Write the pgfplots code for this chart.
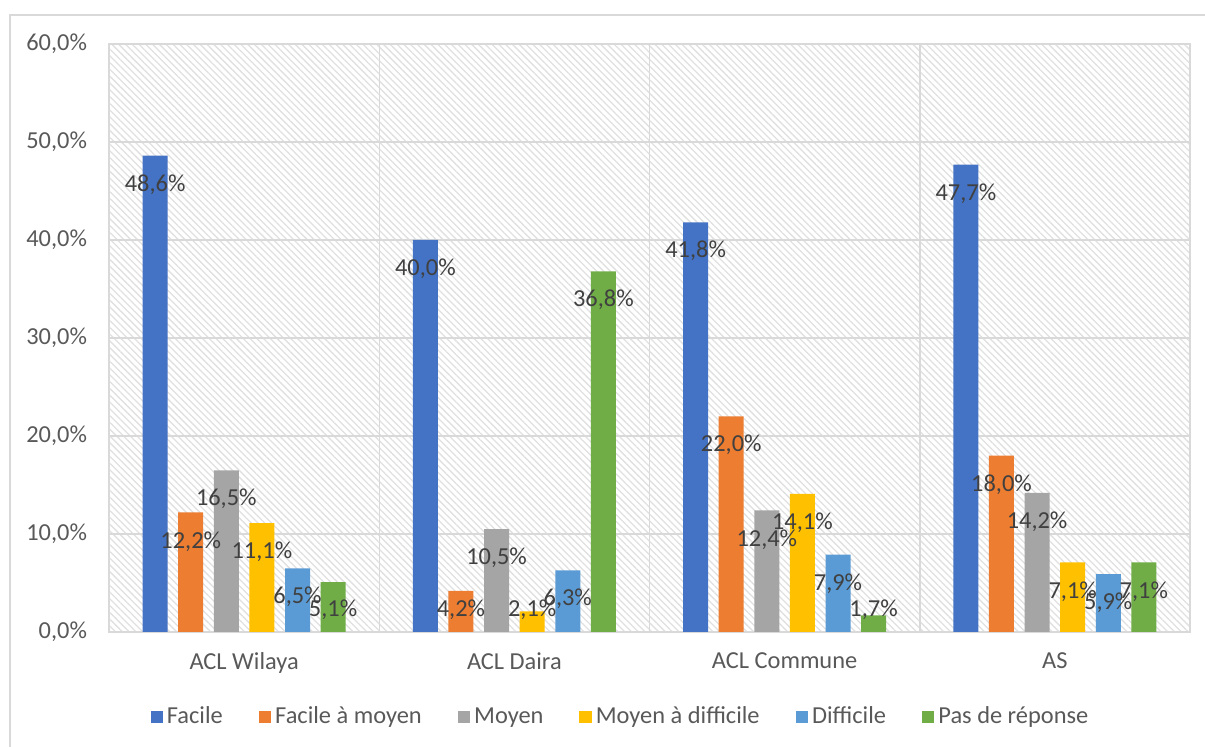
\documentclass[border=0pt]{standalone}
\usepackage{fontspec}
\setmainfont{Carlito}
\usepackage{pgfplots}
\pgfplotsset{compat=1.18}
\usetikzlibrary{patterns.meta}
\definecolor{cBlue}{HTML}{4472C4}
\definecolor{cOrange}{HTML}{ED7D31}
\definecolor{cGray}{HTML}{A5A5A5}
\definecolor{cYellow}{HTML}{FFC000}
\definecolor{cLBlue}{HTML}{5B9BD5}
\definecolor{cGreen}{HTML}{70AD47}
\definecolor{gridgray}{HTML}{D9D9D9}
\definecolor{ticktext}{HTML}{595959}
\definecolor{labtext}{HTML}{404040}
\begin{document}
\begin{tikzpicture}
\useasboundingbox (-54.5pt,-57.5pt) rectangle (548pt,316pt);
\draw[gridgray, line width=1pt] (-49.5pt,-70pt) -- (-49.5pt,308.5pt) -- (570pt,308.5pt);
\begin{axis}[
  at={(0,0)}, anchor=south west,
  scale only axis, width=540.5pt, height=294pt,
  ybar=5.3pt, bar width=12.5pt,
  xmin=-0.5, xmax=3.5, ymin=0, ymax=60,
  xtick={0,1,2,3},
  xticklabels={ACL Wilaya, ACL Daira, ACL Commune, AS},
  ytick={0,10,20,30,40,50,60},
  yticklabels={{0,0\%},{10,0\%},{20,0\%},{30,0\%},{40,0\%},{50,0\%},{60,0\%}},
  minor xtick={0.5,1.5,2.5},
  xminorgrids, ymajorgrids,
  major tick length=0pt, minor tick length=0pt,
  grid style={draw=gridgray, line width=0.75pt},
  minor grid style={draw=gridgray, line width=0.75pt},
  axis line style={draw=gridgray, line width=0.75pt},
  axis background/.style={pattern={Lines[angle=-45,distance=2.4pt,line width=0.65pt]}, pattern color=black!12},
  tick label style={font=\fontsize{12.2}{14}\selectfont, text=ticktext},
  yticklabel style={xshift=-7.5pt},
  xticklabel style={yshift=-7pt},
  point meta=rawy,
  visualization depends on={max(-14,(2.35-rawy)*4.9)-3.8 \as \myshift},
  nodes near coords={\pgfmathprintnumber[fixed,fixed zerofill,precision=1,use comma,assume math mode=true]{\pgfplotspointmeta}\%},
  every node near coord/.append style={font=\fontsize{12.2}{14}\selectfont, text=labtext, anchor=base, yshift=\myshift pt},
  legend columns=6,
  legend style={at={(0.474,-0.1446)}, anchor=center, draw=none, fill=none,
    font=\fontsize{12.2}{14}\selectfont, text=ticktext,
    /tikz/every even column/.append style={column sep=16pt}},
  legend image code/.code={\path[fill,#1,draw=none] (0pt,-3.2pt) rectangle (6.2pt,3.2pt);},
]
\addplot[fill=cBlue, draw=none] coordinates {(0,48.6) (1,40.0) (2,41.8) (3,47.7)};
\addplot[fill=cOrange, draw=none] coordinates {(0,12.2) (1,4.2) (2,22.0) (3,18.0)};
\addplot[fill=cGray, draw=none] coordinates {(0,16.5) (1,10.5) (2,12.4) (3,14.2)};
\addplot[fill=cYellow, draw=none] coordinates {(0,11.1) (1,2.1) (2,14.1) (3,7.1)};
\addplot[fill=cLBlue, draw=none] coordinates {(0,6.5) (1,6.3) (2,7.9) (3,5.9)};
\addplot[fill=cGreen, draw=none] coordinates {(0,5.1) (1,36.8) (2,1.7) (3,7.1)};
\legend{Facile, Facile à moyen, Moyen, Moyen à difficile, Difficile, Pas de réponse}
\end{axis}
\end{tikzpicture}
\end{document}
